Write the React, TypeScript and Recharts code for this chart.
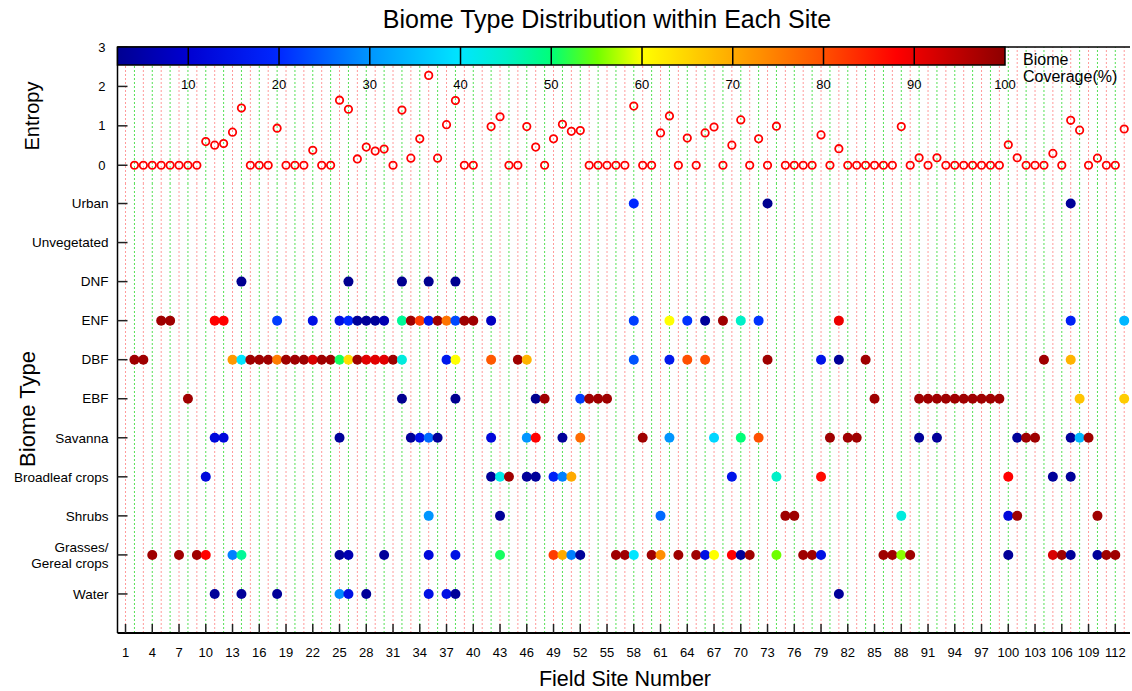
import React from "react";
import { ScatterChart, Scatter, XAxis, YAxis, ReferenceLine } from "recharts";

const FONT = '"Liberation Sans", Arial, Helvetica, sans-serif';

// entropy per site, starting at site 2 (site 41 has no value)
const ENTROPY_START = 2;
const ENTROPY: (number | null)[] = [
  0, 0, 0, 0, 0, 0, 0, 0, // 2-9
  0.6, 0.51, 0.55, 0.84, 1.45, 0, 0, 0, 0.94, 0, // 10-19
  0, 0, 0.38, 0, 0, 1.65, 1.42, 0.16, 0.46, 0.36, // 20-29
  0.41, 0, 1.4, 0.18, 0.67, 2.28, 0.18, 1.03, 1.64, 0, // 30-39
  0, null, 0.98, 1.23, 0, 0, 0.98, 0.46, 0, 0.67, // 40-49
  1.04, 0.86, 0.88, 0, 0, 0, 0, 0, 1.5, 0, // 50-59
  0, 0.82, 1.25, 0, 0.69, 0, 0.82, 0.97, 0, 0.51, // 60-69
  1.15, 0, 0.67, 0, 0.99, 0, 0, 0, 0, 0.77, // 70-79
  0, 0.42, 0, 0, 0, 0, 0, 0, 0.98, 0, // 80-89
  0.19, 0, 0.19, 0, 0, 0, 0, 0, 0, 0, // 90-99
  0.52, 0.19, 0, 0, 0, 0.3, 0, 1.14, 0.89, 0, // 100-109
  0.18, 0, 0, 0.92, // 110-113
];

// biome rows, bottom to top (y = index + 1)
const BIOMES = [
  "Water",
  "Grasses/\nGereal crops",
  "Shrubs",
  "Broadleaf crops",
  "Savanna",
  "EBF",
  "DBF",
  "ENF",
  "DNF",
  "Unvegetated",
  "Urban",
];

// [site, biome coverage %]
const WATER = [[11, 3], [14, 3], [18, 3], [25, 29], [26, 14], [28, 3], [35, 14], [37, 14], [38, 3], [81, 3]];
const GRASSES = [
  [4, 98], [7, 98], [9, 98], [10, 88], [13, 28], [14, 48], [25, 3], [26, 6], [30, 3], [35, 12], [38, 14],
  [43, 51], [49, 82], [50, 70], [51, 28], [52, 3], [56, 98], [57, 98], [58, 40], [60, 98], [61, 73],
  [63, 98], [65, 98], [66, 14], [67, 60], [69, 88], [70, 3], [71, 98], [74, 55], [77, 98], [78, 98],
  [79, 14], [86, 98], [87, 98], [88, 56], [89, 98], [100, 3], [105, 92], [106, 98], [107, 3], [110, 3],
  [111, 98], [112, 98],
];
const SHRUBS = [[35, 30], [43, 3], [61, 26], [75, 98], [76, 98], [88, 43], [100, 12], [101, 98], [110, 98]];
const BROADLEAF = [
  [10, 12], [42, 3], [43, 42], [44, 98], [46, 3], [47, 3], [49, 18], [50, 28], [51, 70], [69, 15],
  [74, 45], [79, 87], [100, 88], [105, 3], [107, 3],
];
const SAVANNA = [
  [11, 12], [12, 12], [25, 3], [33, 3], [34, 14], [35, 26], [36, 3], [42, 12], [46, 30], [47, 88],
  [50, 3], [52, 77], [59, 98], [62, 30], [67, 38], [70, 50], [72, 80], [80, 98], [82, 98], [83, 98],
  [90, 3], [92, 3], [101, 3], [102, 98], [103, 98], [107, 3], [108, 34], [109, 98],
];
const EBF = [
  [8, 98], [32, 2], [38, 2], [47, 2], [48, 98], [52, 22], [53, 98], [54, 98], [55, 98], [85, 98],
  [90, 98], [91, 98], [92, 98], [93, 98], [94, 98], [95, 98], [96, 98], [97, 98], [98, 98], [99, 98],
  [108, 67], [113, 66],
];
const DBF = [
  [2, 98], [3, 98], [13, 72], [14, 40], [15, 98], [16, 98], [17, 98], [18, 75], [19, 98], [20, 98],
  [21, 98], [22, 92], [23, 98], [24, 98], [25, 51], [26, 64], [27, 98], [28, 91], [29, 91], [30, 91],
  [31, 98], [32, 43], [37, 16], [38, 60], [42, 79], [45, 98], [46, 69], [58, 24], [62, 16], [64, 80],
  [66, 80], [73, 98], [79, 15], [81, 3], [84, 98], [104, 98], [107, 69],
];
const ENF = [
  [5, 98], [6, 98], [11, 88], [12, 88], [18, 22], [22, 14], [25, 14], [26, 20], [27, 3], [28, 3],
  [29, 3], [30, 6], [32, 48], [33, 98], [34, 82], [35, 16], [36, 98], [37, 76], [38, 23], [39, 98],
  [40, 98], [42, 8], [58, 22], [62, 60], [64, 21], [66, 3], [68, 98], [70, 45], [72, 21], [81, 90],
  [107, 18], [113, 34],
];
const DNF = [[14, 2], [26, 2], [32, 2], [35, 2], [38, 2]];
const UNVEGETATED: number[][] = [];
const URBAN = [[58, 20], [73, 2], [107, 3]];

const BIOME_POINTS = [WATER, GRASSES, SHRUBS, BROADLEAF, SAVANNA, EBF, DBF, ENF, DNF, UNVEGETATED, URBAN];

const SITE_TICKS = [
  1, 4, 7, 10, 13, 16, 19, 22, 25, 28, 31, 34, 37, 40, 43, 46, 49, 52, 55, 58, 61, 64, 67, 70, 73,
  76, 79, 82, 85, 88, 91, 94, 97, 100, 103, 106, 109, 112,
];
const ENTROPY_TICKS = [0, 1, 2, 3];
const BIOME_TICKS = [1, 2, 3, 4, 5, 6, 7, 8, 9, 10, 11];
const COVER_TICKS = [10, 20, 30, 40, 50, 60, 70, 80, 90, 100];

// colour scale for coverage (value, rgb)
const COLOR_STOPS: [number, number[]][] = [
  [0, [0, 0, 128]],
  [10, [0, 0, 210]],
  [20, [0, 40, 255]],
  [30, [0, 150, 255]],
  [40, [0, 230, 255]],
  [45, [0, 240, 200]],
  [50, [0, 255, 120]],
  [55, [110, 255, 0]],
  [60, [255, 255, 0]],
  [70, [255, 170, 0]],
  [80, [255, 80, 0]],
  [88, [255, 0, 0]],
  [100, [140, 0, 0]],
];

function coverColor(c: number) {
  for (let i = 1; i < COLOR_STOPS.length; i++) {
    const [v1, c1] = COLOR_STOPS[i];
    const [v0, c0] = COLOR_STOPS[i - 1];
    if (c <= v1) {
      const t = Math.max(0, (c - v0) / (v1 - v0));
      const rgb = c0.map((a, k) => Math.round(a + (c1[k] - a) * t));
      return `rgb(${rgb.join(",")})`;
    }
  }
  return "rgb(140,0,0)";
}

const X_DOMAIN = [0.1, 113.65];
const GRID_SITES = Array.from({ length: 113 }, (_, i) => i + 1);

// colour bar geometry (legend, pixels)
const CB_X0 = 117.5;
const CB_X1 = 1005;
const CB_LOW = 2.2;
const cbX = (v: number) => CB_X0 + ((v - CB_LOW) / (100 - CB_LOW)) * (CB_X1 - CB_X0);

function gridLines() {
  return GRID_SITES.map((s) => (
    <ReferenceLine
      key={"g" + s}
      x={s}
      stroke={s % 2 ? "#ff9a9a" : "#55e055"}
      strokeDasharray="2 2"
      strokeWidth={1}
    />
  ));
}

function EntropyTick({ x, y, payload }: any) {
  return (
    <g>
      <line x1={x} x2={x + 10} y1={y} y2={y} stroke="#222" strokeWidth={1.5} />
      <text x={x - 12} y={y} dy="0.35em" textAnchor="end" fontSize={13} fontFamily={FONT} fill="#000">
        {payload.value}
      </text>
    </g>
  );
}

function BiomeTick({ x, y, payload }: any) {
  const lines = BIOMES[payload.value - 1].split("\n");
  return (
    <g>
      <line x1={x} x2={x + 10} y1={y} y2={y} stroke="#222" strokeWidth={1.5} />
      <text x={x - 9} y={y} textAnchor="end" fontSize={13.5} fontFamily={FONT} fill="#000">
        {lines.map((l, i) => (
          <tspan key={i} x={x - 9} dy={i === 0 ? (lines.length > 1 ? "-0.2em" : "0.35em") : "1.2em"}>
            {l}
          </tspan>
        ))}
      </text>
    </g>
  );
}

function SiteTick({ x, y, payload }: any) {
  return (
    <g>
      <line x1={x} x2={x} y1={y} y2={y - 9} stroke="#222" strokeWidth={1.5} />
      <text x={x} y={y + 24} textAnchor="middle" fontSize={13} fontFamily={FONT} fill="#000">
        {payload.value}
      </text>
    </g>
  );
}

const openCircle = (p: any) => (
  <circle cx={p.cx} cy={p.cy} r={3.7} fill="none" stroke="#ff0000" strokeWidth={1.8} />
);

const filledDot = (p: any) => <circle cx={p.cx} cy={p.cy} r={5} fill={coverColor(p.payload.c)} />;

export default function App() {
  const entropyData = ENTROPY.map((v, i) => ({ x: i + ENTROPY_START, y: v })).filter((d) => d.y !== null);
  const axisLine = { stroke: "#000", strokeWidth: 1.5 };

  return (
    <div style={{ position: "relative", width: 1132, height: 691, background: "#fff", fontFamily: FONT }}>
      <style>{"body{margin:0}"}</style>

      <div style={{ position: "absolute", left: 0, top: 0 }}>
        <ScatterChart width={1132} height={184} margin={{ top: 47, right: 2, bottom: 0, left: 0 }}>
          <XAxis
            type="number"
            dataKey="x"
            domain={X_DOMAIN}
            allowDataOverflow
            height={0}
            tick={false}
            tickLine={false}
            axisLine={axisLine}
          />
          <YAxis
            type="number"
            dataKey="y"
            domain={[-0.476, 3]}
            allowDataOverflow
            ticks={ENTROPY_TICKS}
            interval={0}
            width={117.5}
            tickSize={0}
            tickMargin={0}
            tickLine={false}
            tick={(p: any) => <EntropyTick {...p} />}
            axisLine={axisLine}
          />
          {gridLines()}
          <ReferenceLine y={3} stroke="#000" strokeWidth={1.5} />
          <Scatter data={entropyData} shape={openCircle} isAnimationActive={false} />
        </ScatterChart>
      </div>

      <div style={{ position: "absolute", left: 0, top: 184 }}>
        <ScatterChart width={1132} height={507} margin={{ top: 0, right: 2, bottom: 0, left: 0 }}>
          <XAxis
            type="number"
            dataKey="x"
            domain={X_DOMAIN}
            allowDataOverflow
            ticks={SITE_TICKS}
            interval={0}
            height={58}
            tickSize={0}
            tickMargin={0}
            tickLine={false}
            tick={(p: any) => <SiteTick {...p} />}
            axisLine={{ stroke: "#000", strokeWidth: 2 }}
          />
          <YAxis
            type="number"
            dataKey="y"
            domain={[0, 11.5]}
            allowDataOverflow
            ticks={BIOME_TICKS}
            interval={0}
            width={117.5}
            tickSize={0}
            tickMargin={0}
            tickLine={false}
            tick={(p: any) => <BiomeTick {...p} />}
            axisLine={axisLine}
          />
          {gridLines()}
          {BIOME_POINTS.map((pts, row) => (
            <Scatter
              key={BIOMES[row]}
              name={BIOMES[row]}
              data={pts.map(([s, c]) => ({ x: s, y: row + 1, c }))}
              shape={filledDot}
              isAnimationActive={false}
            />
          ))}
        </ScatterChart>
      </div>

      <svg
        width={1132}
        height={691}
        style={{ position: "absolute", left: 0, top: 0, pointerEvents: "none" }}
        fontFamily={FONT}
      >
        <defs>
          <linearGradient id="cbGrad" x1="0" x2="1" y1="0" y2="0">
            {Array.from({ length: 99 }, (_, i) => CB_LOW + ((100 - CB_LOW) * i) / 98).map((v, i) => (
              <stop key={i} offset={(v - CB_LOW) / (100 - CB_LOW)} stopColor={coverColor(v)} />
            ))}
          </linearGradient>
        </defs>
        <text x={607} y={28} textAnchor="middle" fontSize={25}>
          Biome Type Distribution within Each Site
        </text>
        <rect x={CB_X0} y={47} width={CB_X1 - CB_X0} height={18} fill="url(#cbGrad)" stroke="#000" strokeWidth={1.5} />
        {COVER_TICKS.slice(0, 9).map((v) => (
          <line key={v} x1={cbX(v)} x2={cbX(v)} y1={47} y2={65} stroke="#000" strokeWidth={1.5} />
        ))}
        {COVER_TICKS.map((v) => (
          <text key={"t" + v} x={cbX(v)} y={89} textAnchor="middle" fontSize={13}>
            {v}
          </text>
        ))}
        <text x={1023} y={65} fontSize={16}>
          Biome
        </text>
        <text x={1023} y={82} fontSize={16}>
          Coverage(%)
        </text>
        <text transform="translate(39,116) rotate(-90)" textAnchor="middle" fontSize={20}>
          Entropy
        </text>
        <text transform="translate(35,409) rotate(-90)" textAnchor="middle" fontSize={22}>
          Biome Type
        </text>
        <text x={625} y={686} textAnchor="middle" fontSize={21.5}>
          Field Site Number
        </text>
      </svg>
    </div>
  );
}
